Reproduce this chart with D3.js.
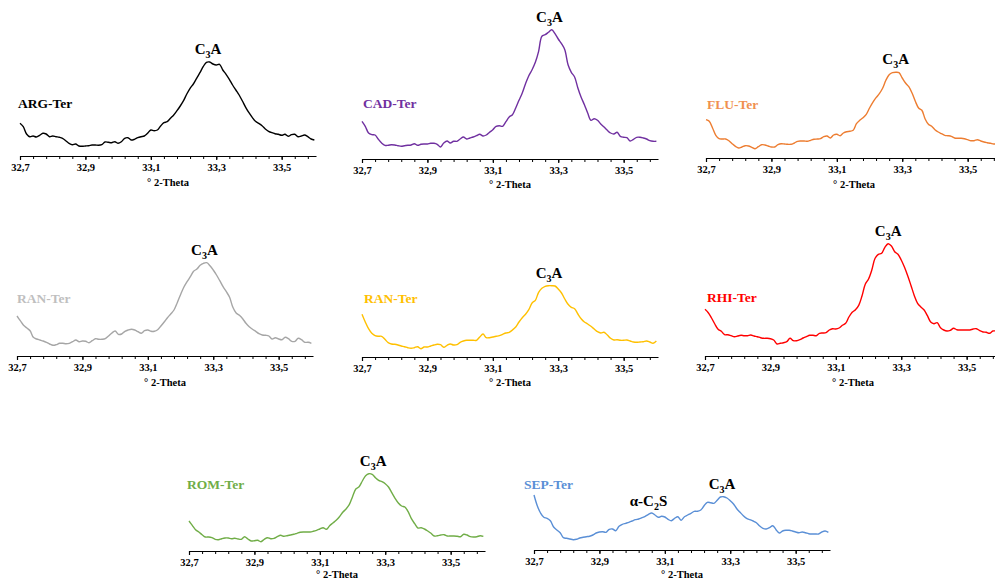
<!DOCTYPE html>
<html>
<head>
<meta charset="utf-8">
<script src="https://cdn.jsdelivr.net/npm/d3@7"></script>
<style>
  html, body { margin: 0; padding: 0; background: #fff; }
  svg { display: block; }
</style>
</head>
<body>
<script>
// ---------------- DATA ----------------
// 2-theta sampling grid (degrees)
const theta = [32.70,32.71,32.72,32.73,32.74,32.75,32.76,32.77,32.78,32.79,
  32.80,32.81,32.82,32.83,32.84,32.85,32.86,32.87,32.88,32.89,
  32.90,32.91,32.92,32.93,32.94,32.95,32.96,32.97,32.98,32.99,
  33.00,33.01,33.02,33.03,33.04,33.05,33.06,33.07,33.08,33.09,
  33.10,33.11,33.12,33.13,33.14,33.15,33.16,33.17,33.18,33.19,
  33.20,33.21,33.22,33.23,33.24,33.25,33.26,33.27,33.28,33.29,
  33.30,33.31,33.32,33.33,33.34,33.35,33.36,33.37,33.38,33.39,
  33.40,33.41,33.42,33.43,33.44,33.45,33.46,33.47,33.48,33.49,
  33.50,33.51,33.52,33.53,33.54,33.55,33.56,33.57,33.58,33.59,
  33.60];

// intensities (arbitrary units)
const argTer = [32.7,29.3,22,19.3,20,19,20.7,22.7,22,19.3, 20,19.3,18.7,17.7,15.3,12.7,11.3,12,10,9.7,
  10,10.3,11,11,10.7,11.3,14,13.7,13.3,14.3, 12.7,14.3,17.7,18.3,16,16.7,18.3,19.3,20,22.7,
  26,25.3,26,30,33.3,34.3,37.7,41,45.3,50, 55.3,62,67.7,72,77.7,83.3,89.3,93.7,94,92,
  91,91.7,86,81.7,76.7,71,66,61,55,48.7, 43.3,38.7,34.7,32.7,30.3,27,24.7,23.3,22.3,21.7,
  20.7,21.7,19.7,21.3,21.7,19.3,20,21,19.3,17, 16];

const cadTer = [37.7,32.7,26,24.3,24,19.7,16,13.7,13.7,14.3, 14,13.3,12.7,13.3,13.7,14,15.3,13.7,14.7,15,
  15,15.7,15.7,14.7,12,16,18,16,17.7,17.7, 20,22,20,21,22,23.3,24.7,23,24,26.7,
  29.3,32.7,33.3,32.7,37.3,42,44.3,51,58.7,66, 75.3,83.3,89.3,96.7,107.7,122.7,124.3,126.7,129.3,125.3,
  120,115.3,109.3,94.3,86.7,82,71,61.7,54.3,46, 38.7,40.3,38.7,35,32,28.7,26,25,26.7,22.7,
  21.7,21.3,18,19.7,21.7,21.7,21,20,18.3,17.7, 17.7];

const fluTer = [38.3,36.7,30,22.7,19.3,19,19,17.3,14.3,11.7, 10,11,12.3,12,10.7,9.3,11.3,13.3,13,12,
  11,11,13.3,14.3,14,13.7,13.7,15,16.7,17, 17,16.7,17.7,18.7,19,19.3,21.3,22,20,23,
  23.7,22.3,25,26.3,26.7,27.7,34.3,37.7,40.3,43.7, 50,55.7,60.3,64.3,69.7,77.7,83.3,85.3,85.7,85.3,
  80,75,71.3,65,56.7,50,47.7,39,33.7,31.7, 28.3,26,24.3,22.7,22.3,21.7,20,19.7,19.7,19.3,
  18.3,17.3,17.3,18.3,17,16,15.3,14.7,14,14, 14];

const ranTerGrey = [40,35.3,30.7,28,25.3,18.7,17,16,15,13.7, 12,10.7,11.3,12.7,12.7,12.3,12.7,14.3,16,14.3,
  15,14.7,13.3,15.3,17.3,16.7,16.7,17.3,20,23, 25,21.7,22,24.7,26,26.7,26,24.3,22.7,25.3,
  26,24.7,24.7,26.3,30,34,38.3,42,46,53.3, 61.3,68.7,74.3,79.3,84.7,87,90.7,92.7,93.3,90.3,
  86,81,75.3,69.3,64.3,58.7,48.7,43,40.7,37.3, 32.7,29.3,26.7,24.7,22.3,21,20.7,20,17,18.3,
  17,16.3,18.7,17.3,14.7,14.7,17.7,16.3,13.7,13.7, 12.7];

const ranTerYellow = [42.7,35,28.3,23.7,21.3,20.7,20.7,17.7,14.3,13, 12.7,12,11,10.3,9.3,8.7,9.3,10.3,8.3,10,
  10,11,12,12.7,12.3,9.7,11.7,13,12,12.3, 14.7,16,16.7,16.7,16.7,16.7,20,23,19.3,19.3,
  20,20.7,21.3,22.7,24,24.7,27,30,35,39.3, 42.7,47.3,54,56.7,64.7,68.7,70.7,71.3,71.3,71,
  68,64,58,52.7,49.7,48.3,43,38.3,35,33, 30.7,28,25.3,24,24.7,22,18.7,17,17.3,16.7,
  16.7,17,16,15,14.7,15,15.3,16,15,13.7, 16];

const rhiTer = [46.7,43.3,38,32,26.7,24.7,21.3,21.3,20.3,19.3, 20,20.7,20.3,20.3,21,20,19.3,18.3,17.7,17.7,
  17.3,16,12,12.7,13.3,14.3,17.7,15.3,15.3,16.3, 18,19.3,20.7,20.7,20.3,22.7,23,23.3,26,27.3,
  27,28,30.7,32.7,39,43.7,46.3,50.7,60,71.7, 77,86,97.7,101.7,102.7,108.7,112.3,110,104.3,101.7,
  96,88.7,80,70.3,60.3,52.7,49,46,40.3,34, 32.3,33.3,28.3,26,25,25.7,27.7,26.3,26,26,
  26,26,27,27.3,25.3,24,23.7,22.7,25,25, 25];

const romTer = [30,25.7,21.3,19,16.3,14,14,13.3,11.7,11.3, 12.3,13,13,12.3,12.7,12,11.7,14.3,12,10,
  10.3,10.7,9.3,11.7,13.3,12.3,12.7,14.3,15.7,14.7, 15.3,16,16.7,17.7,18.7,19,19,19,19.7,20.7,
  22,23.3,21.7,25.3,28,30.7,34.3,38.7,42,46.3, 54.3,62,64.3,70,75.3,77.3,76.7,73.3,70.7,69.3,
  67.3,64,58.3,52.7,48,45,44,39.3,32.3,27.3, 23,23.3,22,20,17.7,15,15.3,16,16.3,15,
  15,15,14.7,14.3,16.7,16,14.3,14,14.3,15.3, 14.7];

const sepTer = [55,44.3,37,32.7,31.7,29.3,23,20,17.3,12.3, 11.7,11,10.3,10.7,12,12.7,13.3,13.7,15,17,
  18,18.3,17.7,20.7,21,19.3,23.7,25.7,26.7,27.7, 29,30.3,31,32.3,33.7,35.7,37,35,32.7,33.7,
  33,30.7,29.3,31.7,33.3,29.7,33.3,35,36.7,38.7, 38.7,40,44.3,47.7,47.3,46.7,49.7,53,53.3,52,
  49.3,46,41.3,37.7,34.3,31.7,30.3,29,27.3,24, 21.7,21,22.3,24.3,20.3,17,19,19.7,19.7,19,
  18,17.3,18,17.3,16.3,16,16,16,18,19, 17.7];

// axis ticks
const majorTicks = [32.7, 32.9, 33.1, 33.3, 33.5];
const minorTicks = [32.70,32.74,32.78,32.82,32.86,32.90,32.94,32.98,33.02,33.06,33.10,33.14,
  33.18,33.22,33.26,33.30,33.34,33.38,33.42,33.46,33.50,33.54,33.58];

// sample names and phase annotations (peak position in 2-theta)
const sampleNames = ["ARG-Ter","CAD-Ter","FLU-Ter","RAN-Ter","RAN-Ter","RHI-Ter","ROM-Ter","SEP-Ter"];
const c3aTheta = [33.275, 33.273, 33.28, 33.273, 33.272, 33.26, 33.263, 33.275];
const c2sTheta = 33.05;
const axisTitle = "° 2-Theta";

// ---------------- LAYOUT / STYLE ----------------
const W = 995, H = 583;
const FONT = "'Liberation Serif', 'Times New Roman', 'DejaVu Serif', serif";
const AXIS_W = 296;

const layout = [
  { x0: 20,  axisY: 156, lx: 18,  ly: 108, tOff: 30, line: "#000000", lab: "#000000" },
  { x0: 362, axisY: 159, lx: 363, ly: 108, tOff: 29, line: "#7030A0", lab: "#7030A0" },
  { x0: 706, axisY: 158, lx: 707, ly: 109, tOff: 30, line: "#ED7D31", lab: "#F0904F" },
  { x0: 17,  axisY: 356, lx: 17,  ly: 303, tOff: 30, line: "#A6A6A6", lab: "#BFBFBF" },
  { x0: 362, axisY: 357, lx: 364, ly: 303, tOff: 29, line: "#FFC000", lab: "#FFC000" },
  { x0: 705, axisY: 356, lx: 707, ly: 302, tOff: 30, line: "#FF0000", lab: "#FF0000" },
  { x0: 189, axisY: 551, lx: 187, ly: 489, tOff: 27, line: "#70AD47", lab: "#70AD47" },
  { x0: 534, axisY: 550, lx: 524, ly: 489, tOff: 28, line: "#5A8FD6", lab: "#5A8FD6" }
];
const seriesList = [argTer, cadTer, fluTer, ranTerGrey, ranTerYellow, rhiTer, romTer, sepTer];

const svg = d3.select("body").append("svg").attr("width", W).attr("height", H);
svg.append("rect").attr("width", W).attr("height", H).attr("fill", "#fff");

function phaseLabel(g, x, y, base, sub, tail) {
  const t = g.append("text")
    .attr("x", x).attr("y", y)
    .attr("text-anchor", "middle")
    .attr("font-family", FONT).attr("font-weight", "bold")
    .attr("font-size", 15).attr("fill", "#000");
  t.append("tspan").text(base);
  t.append("tspan").attr("font-size", 10).attr("dy", 4).text(sub);
  t.append("tspan").attr("dy", -4).text(tail);
}

seriesList.forEach((vals, k) => {
  const L = layout[k];
  const x = d3.scaleLinear().domain([32.7, 33.605]).range([L.x0, L.x0 + AXIS_W]);
  const y = d3.scaleLinear().domain([0, 100]).range([L.axisY, L.axisY - 100]);
  const g = svg.append("g");

  // minor ticks
  const gMinor = g.append("g").attr("transform", `translate(0,${L.axisY})`)
    .call(d3.axisBottom(x).tickValues(minorTicks).tickSize(3).tickSizeOuter(0).tickFormat(""));
  gMinor.select(".domain").attr("stroke", "#000").attr("stroke-width", 1.2);
  gMinor.selectAll(".tick line").attr("stroke", "#000").attr("stroke-width", 1);

  // major ticks + labels
  const gMajor = g.append("g").attr("transform", `translate(0,${L.axisY})`)
    .call(d3.axisBottom(x).tickValues(majorTicks).tickSize(4).tickSizeOuter(0).tickPadding(4)
      .tickFormat(d => d.toFixed(1).replace(".", ",")));
  gMajor.select(".domain").remove();
  gMajor.selectAll(".tick line").attr("stroke", "#000").attr("stroke-width", 1.2);
  gMajor.selectAll(".tick text")
    .attr("font-family", FONT).attr("font-weight", "bold")
    .attr("font-size", 10.5).attr("fill", "#000");

  // axis title
  g.append("text")
    .attr("x", L.x0 + AXIS_W / 2).attr("y", L.axisY + L.tOff)
    .attr("text-anchor", "middle")
    .attr("font-family", FONT).attr("font-weight", "bold")
    .attr("font-size", 10.5).attr("fill", "#000")
    .text(axisTitle);

  // pattern line
  const line = d3.line()
    .x((d, i) => x(theta[i]))
    .y(d => y(d))
    .curve(d3.curveCatmullRom.alpha(0.5));
  g.append("path").datum(vals)
    .attr("d", line)
    .attr("fill", "none")
    .attr("stroke", L.line)
    .attr("stroke-width", 1.4)
    .attr("stroke-linejoin", "round");

  // sample label
  g.append("text")
    .attr("x", L.lx).attr("y", L.ly)
    .attr("font-family", FONT).attr("font-weight", "bold")
    .attr("font-size", 13.5).attr("fill", L.lab)
    .text(sampleNames[k]);

  // C3A annotation above the peak
  const near = (t0) => d3.max(vals.filter((v, i) => Math.abs(theta[i] - t0) <= 0.03));
  phaseLabel(g, x(c3aTheta[k]), y(near(c3aTheta[k])) - 8, "C", "3", "A");
  if (k === 7) {
    phaseLabel(g, x(c2sTheta), y(near(c2sTheta)) - 7, "α-C", "2", "S");
  }
});
</script>
</body>
</html>
